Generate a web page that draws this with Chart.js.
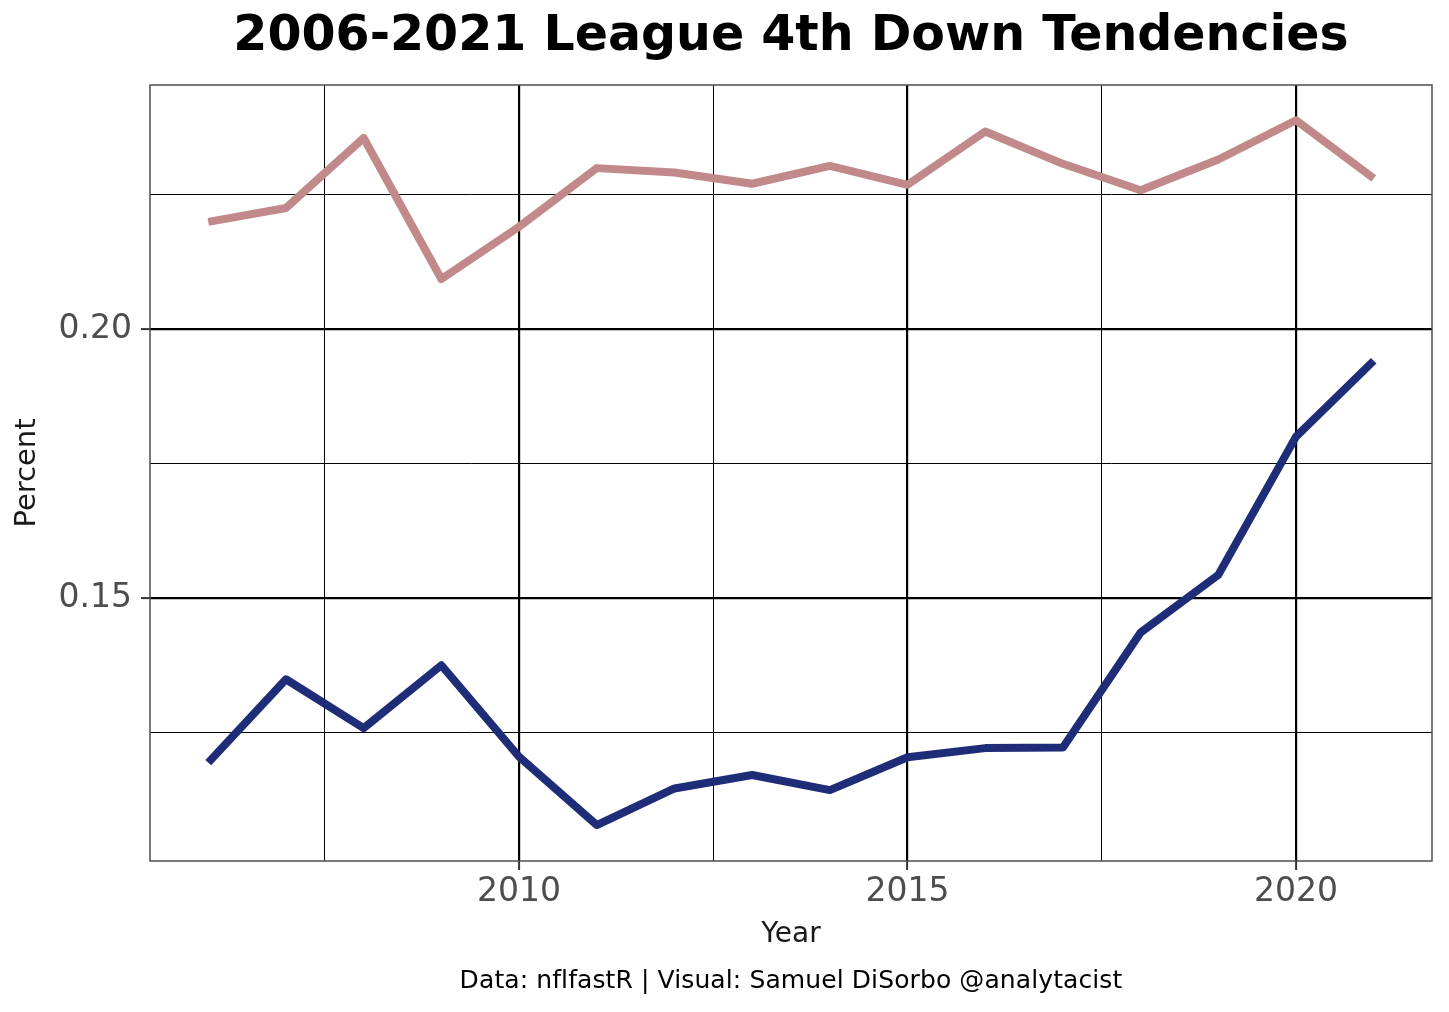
<!DOCTYPE html>
<html>
<head>
<meta charset="utf-8">
<script src="https://cdn.jsdelivr.net/npm/chart.js@4/dist/chart.umd.min.js"></script>
<style>
  html, body { margin: 0; padding: 0; background: #ffffff; }
  #wrap { width: 1449px; height: 1012px; }
</style>
</head>
<body>
<div id="wrap"><canvas id="c" width="1449" height="1012"></canvas></div>
<script>
// ---- data ----
const years = [2006, 2007, 2008, 2009, 2010, 2011, 2012, 2013, 2014, 2015, 2016, 2017, 2018, 2019, 2020, 2021];
const upperRate = [0.2199, 0.2225, 0.2355, 0.2093, 0.2190, 0.2299, 0.2291, 0.2270, 0.2303, 0.2268, 0.2367, 0.2307, 0.2258, 0.2315, 0.2388, 0.2280];
const lowerRate = [0.1194, 0.1349, 0.1258, 0.1375, 0.1205, 0.1078, 0.1146, 0.1171, 0.1143, 0.1204, 0.1221, 0.1222, 0.1436, 0.1543, 0.1800, 0.1941];
const xMajorTicks = [2010, 2015, 2020];
const xMinorTicks = [2007.5, 2012.5, 2017.5];
const yMajorTicks = [0.15, 0.20];
const yMinorTicks = [0.125, 0.175, 0.225];
const titleText = '2006-2021 League 4th Down Tendencies';
const captionText = 'Data: nflfastR | Visual: Samuel DiSorbo @analytacist';
const xTitle = 'Year';
const yTitle = 'Percent';

const FONT = "'DejaVu Sans', 'Open Sans', sans-serif";

function toPoints(vals) { return years.map((y, i) => ({ x: y, y: vals[i] })); }
const isMajor = (arr, v) => arr.some(m => Math.abs(m - v) < 1e-9);

const panelPlugin = {
  id: 'panel',
  afterDatasetsDraw(chart) {
    const { ctx, chartArea: a } = chart;
    ctx.save();
    ctx.strokeStyle = '#4d4d4d';
    ctx.lineWidth = 1.5;
    ctx.strokeRect(a.left, a.top, a.right - a.left, a.bottom - a.top);
    ctx.restore();
  },
  afterDraw(chart) {
    const { ctx, chartArea: a } = chart;
    const cx = (a.left + a.right) / 2;
    ctx.save();
    ctx.fillStyle = '#000';
    ctx.textAlign = 'center';
    ctx.textBaseline = 'middle';
    ctx.font = `bold 49px ${FONT}`;
    ctx.fillText(titleText, cx, 37);
    ctx.font = `25px ${FONT}`;
    if ('letterSpacing' in ctx) ctx.letterSpacing = '0.1px';
    ctx.fillText(captionText, cx, 981);
    ctx.restore();
  }
};

new Chart(document.getElementById('c'), {
  type: 'line',
  data: {
    datasets: [
      { label: 'upper', data: toPoints(upperRate), borderColor: '#c1898a', borderWidth: 8,
        pointRadius: 0, tension: 0, borderCapStyle: 'butt', borderJoinStyle: 'round', fill: false },
      { label: 'lower', data: toPoints(lowerRate), borderColor: '#1f2d78', borderWidth: 8,
        pointRadius: 0, tension: 0, borderCapStyle: 'butt', borderJoinStyle: 'round', fill: false }
    ]
  },
  options: {
    responsive: false,
    devicePixelRatio: 1,
    animation: false,
    layout: { padding: { top: 85, right: 17, left: 0, bottom: 0 } },
    plugins: { legend: { display: false }, title: { display: false }, tooltip: { enabled: false } },
    scales: {
      x: {
        type: 'linear',
        min: 2005.25,
        max: 2021.75,
        afterBuildTicks(scale) {
          scale.ticks = [...xMinorTicks, ...xMajorTicks].sort((a, b) => a - b).map(v => ({ value: v }));
        },
        afterFit(scale) { scale.height = 151; },
        ticks: {
          autoSkip: false,
          maxRotation: 0,
          padding: 3,
          color: '#4d4d4d',
          font: { family: FONT, size: 33 },
          callback: (v) => isMajor(xMajorTicks, v) ? String(v) : ''
        },
        grid: {
          color: '#000',
          lineWidth: (c) => isMajor(xMajorTicks, c.tick ? c.tick.value : NaN) ? 2.2 : 1,
          drawTicks: true,
          tickLength: 9,
          tickColor: (c) => isMajor(xMajorTicks, c.tick ? c.tick.value : NaN) ? '#333' : 'rgba(0,0,0,0)',
          tickWidth: 2
        },
        border: { display: false },
        title: {
          display: true, text: xTitle, color: '#1a1a1a',
          font: { family: FONT, size: 28 }, padding: { top: 0, bottom: 60 }
        }
      },
      y: {
        type: 'linear',
        min: 0.10112,
        max: 0.24535,
        afterBuildTicks(scale) {
          scale.ticks = [...yMinorTicks, ...yMajorTicks].sort((a, b) => a - b).map(v => ({ value: v }));
        },
        afterFit(scale) { scale.width = 150; },
        ticks: {
          autoSkip: false,
          padding: 9,
          color: '#4d4d4d',
          font: { family: FONT, size: 33 },
          callback: (v) => isMajor(yMajorTicks, v) ? Number(v).toFixed(2) : ''
        },
        grid: {
          color: '#000',
          lineWidth: (c) => isMajor(yMajorTicks, c.tick ? c.tick.value : NaN) ? 2.2 : 1,
          drawTicks: true,
          tickLength: 9,
          tickColor: (c) => isMajor(yMajorTicks, c.tick ? c.tick.value : NaN) ? '#333' : 'rgba(0,0,0,0)',
          tickWidth: 2
        },
        border: { display: false },
        title: {
          display: true, text: yTitle, color: '#1a1a1a',
          font: { family: FONT, size: 29 }, padding: { top: 10, bottom: 0 }
        }
      }
    }
  },
  plugins: [panelPlugin]
});
</script>
</body>
</html>
